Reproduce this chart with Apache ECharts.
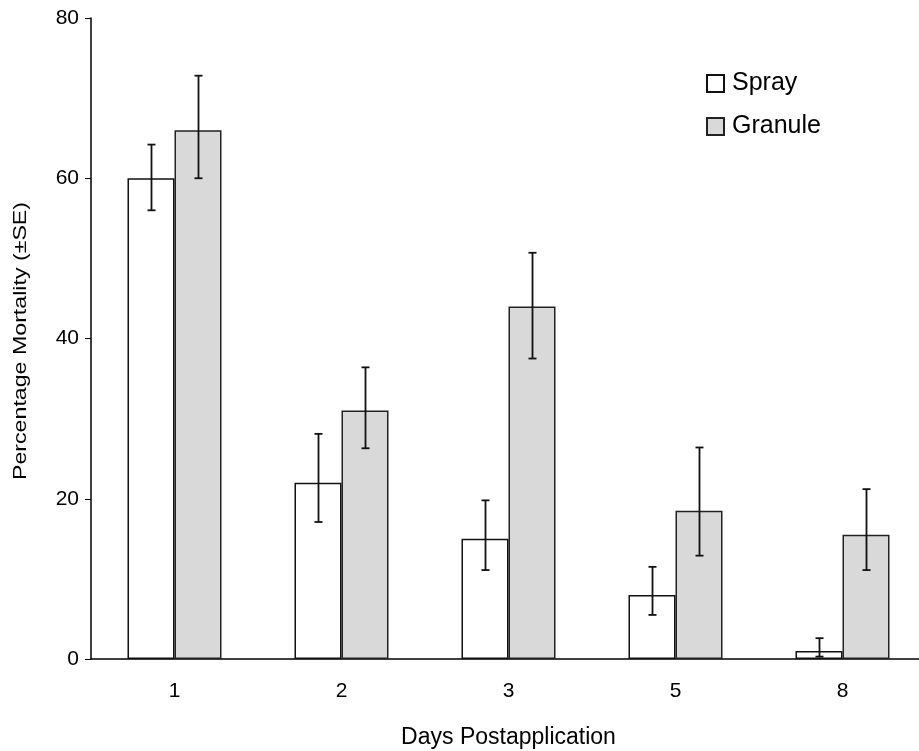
<!DOCTYPE html>
<html>
<head>
<meta charset="utf-8">
<script src="https://cdn.jsdelivr.net/npm/echarts@6/dist/echarts.min.js"></script>
<style>
  html, body { margin: 0; padding: 0; background: #fff; }
  #chart { width: 919px; height: 751px; }
</style>
</head>
<body>
<div id="chart"></div>
<script>
// days after application
var days = ["1", "2", "3", "5", "8"];
var yTicks = [0, 20, 40, 60, 80];

// mean mortality and error bar ends
var sprayMean = [60, 22, 15, 8, 1];
var sprayLow = [56, 17.1, 11.1, 5.5, 0.3];
var sprayHigh = [64.2, 28.1, 19.8, 11.5, 2.6];

var granuleMean = [66, 31, 44, 18.5, 15.5];
var granuleLow = [60, 26.3, 37.5, 12.9, 11.1];
var granuleHigh = [72.8, 36.4, 50.7, 26.4, 21.2];

var BAR_W = 47;
var FONT = "Liberation Sans, Arial, sans-serif";

function errorSeries(name, low, high, offset) {
  var data = days.map(function (d, i) { return [i, low[i], high[i]]; });
  return {
    name: name + " SE",
    type: "custom",
    silent: true,
    z: 5,
    data: data,
    renderItem: function (params, api) {
      var i = api.value(0);
      var lo = api.coord([i, api.value(1)]);
      var hi = api.coord([i, api.value(2)]);
      var x = Math.round(lo[0] + offset) + 0.5;
      var cap = 4;
      var st = { stroke: "#111", lineWidth: 1.8 };
      return {
        type: "group",
        children: [
          { type: "line", shape: { x1: x, y1: lo[1], x2: x, y2: hi[1] }, style: st },
          { type: "line", shape: { x1: x - cap, y1: hi[1], x2: x + cap, y2: hi[1] }, style: st },
          { type: "line", shape: { x1: x - cap, y1: lo[1], x2: x + cap, y2: lo[1] }, style: st }
        ]
      };
    }
  };
}

var myChart = echarts.init(document.getElementById("chart"));
myChart.setOption({
  animation: false,
  textStyle: { fontFamily: FONT, color: "#000" },
  grid: {
    left: 91, top: 18, width: 835, bottom: 92,
    containLabel: false,
    outerBoundsMode: "none"
  },
  // y title is drawn a bit stretched, like the source picture
  graphic: [{
    type: "text",
    x: 21,
    y: 341,
    rotation: Math.PI / 2,
    scaleX: 1.22,
    style: {
      text: "Percentage Mortality (±SE)",
      font: "19px " + FONT,
      fill: "#000",
      align: "center",
      verticalAlign: "middle"
    }
  }],
  legend: {
    data: ["Spray", "Granule"],
    orient: "vertical",
    left: 706,
    top: 71,
    padding: 0,
    itemGap: 18,
    itemWidth: 17,
    itemHeight: 17,
    icon: "rect",
    textStyle: { fontSize: 25, color: "#000", padding: [0, 0, 0, 3] }
  },
  xAxis: {
    type: "category",
    data: days,
    name: "Days Postapplication",
    nameLocation: "middle",
    nameGap: 67,
    nameTextStyle: { fontSize: 23, color: "#000" },
    axisLine: { lineStyle: { color: "#000", width: 1.5 } },
    axisTick: { length: 7, lineStyle: { color: "#000" } },
    axisLabel: { fontSize: 21, color: "#000", margin: 22 }
  },
  yAxis: {
    type: "value",
    min: yTicks[0],
    max: yTicks[yTicks.length - 1],
    interval: 20,
    splitLine: { show: false },
    axisLine: { show: true, lineStyle: { color: "#000", width: 1.5 } },
    axisTick: { show: true, length: 6, lineStyle: { color: "#000" } },
    axisLabel: { fontSize: 21, color: "#000", margin: 12 }
  },
  series: [
    {
      name: "Spray",
      type: "bar",
      data: sprayMean,
      barWidth: BAR_W,
      barGap: "0%",
      itemStyle: { color: "#ffffff", borderColor: "#111", borderWidth: 1.5 }
    },
    {
      name: "Granule",
      type: "bar",
      data: granuleMean,
      barWidth: BAR_W,
      itemStyle: { color: "#d9d9d9", borderColor: "#222", borderWidth: 1.5 }
    },
    errorSeries("Spray", sprayLow, sprayHigh, -BAR_W / 2),
    errorSeries("Granule", granuleLow, granuleHigh, BAR_W / 2)
  ]
});
</script>
</body>
</html>
